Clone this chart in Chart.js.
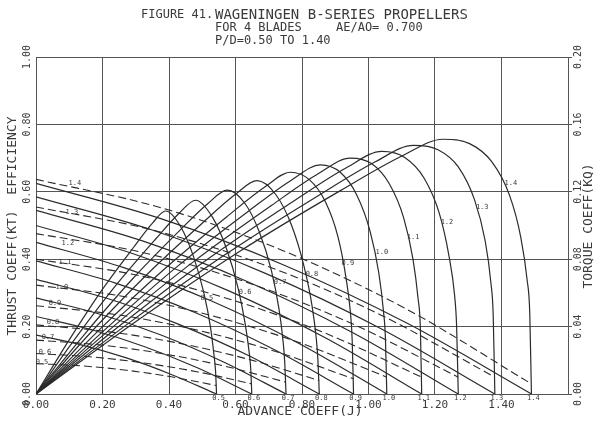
<!DOCTYPE html>
<html>
<head>
<meta charset="utf-8">
<script src="https://cdn.jsdelivr.net/npm/chart.js@4.4.1/dist/chart.umd.min.js"></script>
<style>
  html, body { margin: 0; padding: 0; background: #fff; }
  #wrap { width: 596px; height: 421px; }
</style>
</head>
<body>
<div id="wrap"><canvas id="chart" width="596" height="421"></canvas></div>
<script>
// ===== DATA =====
const pitch = ["0.5", "0.6", "0.7", "0.8", "0.9", "1.0", "1.1", "1.2", "1.3", "1.4"];

// J where KT falls to zero (curves stop there)
const jEnd = [0.543, 0.649, 0.752, 0.852, 0.955, 1.055, 1.16, 1.27, 1.38, 1.49];

// thrust (solid) and torque (dashed) curves share these J stations
const ktJ = [
  [0, 0.136, 0.272, 0.407, 0.543],
  [0, 0.162, 0.325, 0.487, 0.649],
  [0, 0.188, 0.376, 0.564, 0.752],
  [0, 0.213, 0.426, 0.639, 0.852],
  [0, 0.239, 0.478, 0.716, 0.955],
  [0, 0.264, 0.528, 0.791, 1.055],
  [0, 0.29, 0.58, 0.87, 1.16],
  [0, 0.318, 0.635, 0.953, 1.27],
  [0, 0.345, 0.69, 1.035, 1.38],
  [0, 0.373, 0.745, 1.118, 1.49]
];
const kt = [
  [0.175, 0.146, 0.107, 0.058, 0],
  [0.23, 0.192, 0.141, 0.077, 0],
  [0.285, 0.238, 0.175, 0.095, 0],
  [0.34, 0.284, 0.208, 0.114, 0],
  [0.395, 0.329, 0.242, 0.132, 0],
  [0.45, 0.375, 0.276, 0.15, 0],
  [0.5, 0.417, 0.306, 0.167, 0],
  [0.545, 0.455, 0.334, 0.182, 0],
  [0.585, 0.488, 0.358, 0.195, 0],
  [0.625, 0.521, 0.383, 0.209, 0]
];
const kq = [
  [0.018, 0.0167, 0.0141, 0.0102, 0.005],
  [0.024, 0.0221, 0.0184, 0.0131, 0.006],
  [0.032, 0.0292, 0.0241, 0.0167, 0.007],
  [0.041, 0.0371, 0.0303, 0.0206, 0.008],
  [0.0524, 0.0472, 0.0382, 0.0255, 0.009],
  [0.0646, 0.0579, 0.0465, 0.0306, 0.01],
  [0.08, 0.0711, 0.0564, 0.0361, 0.01],
  [0.0952, 0.0841, 0.0662, 0.0415, 0.01],
  [0.111, 0.0976, 0.0763, 0.0471, 0.01],
  [0.1274, 0.1107, 0.0849, 0.05, 0.006]
];

// open water efficiency curves: rise, rounded top, fall back to zero at jEnd
const etaJ = [
  [0, 0.0975, 0.195, 0.2925, 0.351, 0.39, 0.436, 0.474, 0.505, 0.525, 0.535, 0.54, 0.543],
  [0, 0.12, 0.24, 0.36, 0.432, 0.48, 0.531, 0.573, 0.607, 0.629, 0.641, 0.646, 0.649],
  [0, 0.144, 0.288, 0.431, 0.518, 0.575, 0.628, 0.672, 0.708, 0.731, 0.743, 0.748, 0.752],
  [0, 0.166, 0.333, 0.499, 0.599, 0.665, 0.721, 0.768, 0.805, 0.83, 0.843, 0.848, 0.852],
  [0, 0.191, 0.383, 0.574, 0.689, 0.765, 0.822, 0.87, 0.908, 0.932, 0.946, 0.951, 0.955],
  [0, 0.214, 0.428, 0.641, 0.77, 0.855, 0.915, 0.965, 1.005, 1.031, 1.045, 1.051, 1.055],
  [0, 0.236, 0.473, 0.709, 0.851, 0.945, 1.01, 1.063, 1.106, 1.134, 1.149, 1.156, 1.16],
  [0, 0.26, 0.52, 0.78, 0.936, 1.04, 1.109, 1.167, 1.213, 1.242, 1.259, 1.265, 1.27],
  [0, 0.284, 0.568, 0.851, 1.022, 1.135, 1.209, 1.27, 1.319, 1.351, 1.368, 1.375, 1.38],
  [0, 0.306, 0.612, 0.918, 1.102, 1.224, 1.304, 1.37, 1.424, 1.458, 1.477, 1.485, 1.49]
];
const eta = [
  [0, 0.157, 0.304, 0.434, 0.508, 0.543, 0.495, 0.407, 0.299, 0.197, 0.118, 0.068, 0],
  [0, 0.167, 0.322, 0.46, 0.538, 0.575, 0.524, 0.431, 0.317, 0.209, 0.125, 0.072, 0],
  [0, 0.175, 0.339, 0.484, 0.566, 0.605, 0.566, 0.48, 0.366, 0.251, 0.157, 0.095, 0],
  [0, 0.184, 0.354, 0.506, 0.592, 0.633, 0.592, 0.502, 0.383, 0.263, 0.164, 0.099, 0],
  [0, 0.191, 0.368, 0.526, 0.615, 0.658, 0.636, 0.571, 0.467, 0.347, 0.238, 0.158, 0],
  [0, 0.197, 0.381, 0.544, 0.636, 0.68, 0.658, 0.59, 0.482, 0.359, 0.246, 0.163, 0],
  [0, 0.203, 0.392, 0.56, 0.655, 0.7, 0.683, 0.623, 0.522, 0.399, 0.284, 0.196, 0],
  [0, 0.209, 0.403, 0.576, 0.673, 0.72, 0.702, 0.641, 0.536, 0.41, 0.292, 0.202, 0],
  [0, 0.214, 0.413, 0.59, 0.69, 0.738, 0.725, 0.674, 0.576, 0.454, 0.331, 0.235, 0],
  [0, 0.219, 0.423, 0.605, 0.707, 0.756, 0.743, 0.69, 0.59, 0.465, 0.339, 0.24, 0]
];

// where the little P/D labels sit
const kqLabelJ = [0.018, 0.027, 0.036, 0.051, 0.057, 0.078, 0.087, 0.096, 0.108, 0.117];
const kqLabelKQ = [0.019, 0.0249, 0.0338, 0.0427, 0.054, 0.0635, 0.0783, 0.0896, 0.108, 0.1252];
const etaLabelJ = [0.514, 0.629, 0.734, 0.83, 0.938, 1.04, 1.134, 1.236, 1.342, 1.428];
const etaLabelVal = [0.285, 0.303, 0.332, 0.356, 0.389, 0.421, 0.466, 0.51, 0.555, 0.626];

const titleLines = [
  "FIGURE 41.",
  "WAGENINGEN B-SERIES PROPELLERS",
  "FOR 4 BLADES",
  "AE/AO= 0.700",
  "P/D=0.50 TO 1.40"
];

// ===== STYLE =====
const INK = "#2b2b2b";
const GRID = "#555";
const TXT = "#3a3a3a";
const MONO = '"DejaVu Sans Mono", "Liberation Mono", monospace';

// ===== DATASETS =====
const datasets = [];
pitch.forEach((p, i) => {
  datasets.push({
    label: "KT " + p, yAxisID: "y",
    data: ktJ[i].map((j, k) => ({ x: j, y: kt[i][k] })),
    borderColor: INK, borderWidth: 1.2, pointRadius: 0, cubicInterpolationMode: "monotone"
  });
  datasets.push({
    label: "KQ " + p, yAxisID: "yR",
    data: ktJ[i].map((j, k) => ({ x: j, y: kq[i][k] })),
    borderColor: INK, borderWidth: 1.1, borderDash: [8, 4], pointRadius: 0, cubicInterpolationMode: "monotone"
  });
  datasets.push({
    label: "ETA " + p, yAxisID: "y",
    data: etaJ[i].map((j, k) => ({ x: j, y: eta[i][k] })),
    borderColor: INK, borderWidth: 1.2, pointRadius: 0, cubicInterpolationMode: "monotone"
  });
});

// ===== TEXT PLUGIN (rotated ticks, titles, curve labels) =====
function rotText(ctx, txt, x, y) {
  ctx.save();
  ctx.translate(x, y);
  ctx.rotate(-Math.PI / 2);
  ctx.fillText(txt, 0, 0);
  ctx.restore();
}

const textPlugin = {
  id: "plotterText",
  afterDraw(chart) {
    const { ctx, chartArea: a, scales } = chart;
    const sx = scales.x, sy = scales.y, sr = scales.yR;
    ctx.save();
    ctx.fillStyle = TXT;
    ctx.textBaseline = "middle";

    // title
    ctx.textAlign = "left";
    ctx.font = "12px " + MONO;
    ctx.fillText(titleLines[0], 141, 15);
    ctx.font = "14px " + MONO;
    ctx.fillText(titleLines[1], 215, 15);
    ctx.font = "12px " + MONO;
    ctx.fillText(titleLines[2], 215, 28);
    ctx.fillText(titleLines[3], 336, 28);
    ctx.fillText(titleLines[4], 215, 41);

    // rotated tick labels
    ctx.textAlign = "center";
    ctx.font = "10px " + MONO;
    sy.ticks.forEach(t => rotText(ctx, t.value.toFixed(2), a.left - 9, sy.getPixelForValue(t.value)));
    sr.ticks.forEach(t => rotText(ctx, t.value.toFixed(2), a.right + 10, sr.getPixelForValue(t.value)));

    // axis titles
    ctx.font = "13px " + MONO;
    rotText(ctx, "THRUST COEFF(KT)  EFFICIENCY", 13, 226);
    rotText(ctx, "TORQUE COEFF(KQ)", 589, 226);
    ctx.fillText("ADVANCE COEFF(J)", 300, 412);

    // curve labels
    ctx.font = "7px " + MONO;
    pitch.forEach((p, i) => {
      ctx.fillText(p, sx.getPixelForValue(kqLabelJ[i]), sr.getPixelForValue(kqLabelKQ[i]));
      ctx.fillText(p, sx.getPixelForValue(etaLabelJ[i]), sy.getPixelForValue(etaLabelVal[i]));
      ctx.fillText(p, sx.getPixelForValue(jEnd[i]) + 2, a.bottom + 4);
    });
    ctx.restore();
  }
};

// ===== CHART =====
new Chart(document.getElementById("chart"), {
  type: "line",
  data: { datasets },
  options: {
    responsive: false,
    animation: false,
    devicePixelRatio: 1,
    layout: { padding: { top: 57, left: 0, right: 0, bottom: 0 } },
    plugins: { legend: { display: false }, tooltip: { enabled: false } },
    scales: {
      x: {
        type: "linear", min: 0, max: 1.6,
        ticks: {
          stepSize: 0.2, padding: 5, color: TXT,
          font: { family: MONO, size: 11 },
          maxRotation: 0,
          callback: v => (v > 1.5 ? "" : v.toFixed(2))
        },
        grid: { color: GRID, lineWidth: 1, drawTicks: false },
        border: { color: GRID },
        afterFit: s => { s.height = 27; }
      },
      y: {
        position: "left", min: 0, max: 1,
        ticks: { stepSize: 0.2, display: false },
        grid: { color: GRID, lineWidth: 1, drawTicks: false },
        border: { color: GRID },
        afterFit: s => { s.width = 36; }
      },
      yR: {
        position: "right", min: 0, max: 0.2,
        ticks: { stepSize: 0.04, display: false },
        grid: { drawOnChartArea: false, color: GRID, tickLength: 4 },
        border: { color: GRID },
        afterFit: s => { s.width = 28; }
      }
    }
  },
  plugins: [textPlugin]
});
</script>
</body>
</html>
